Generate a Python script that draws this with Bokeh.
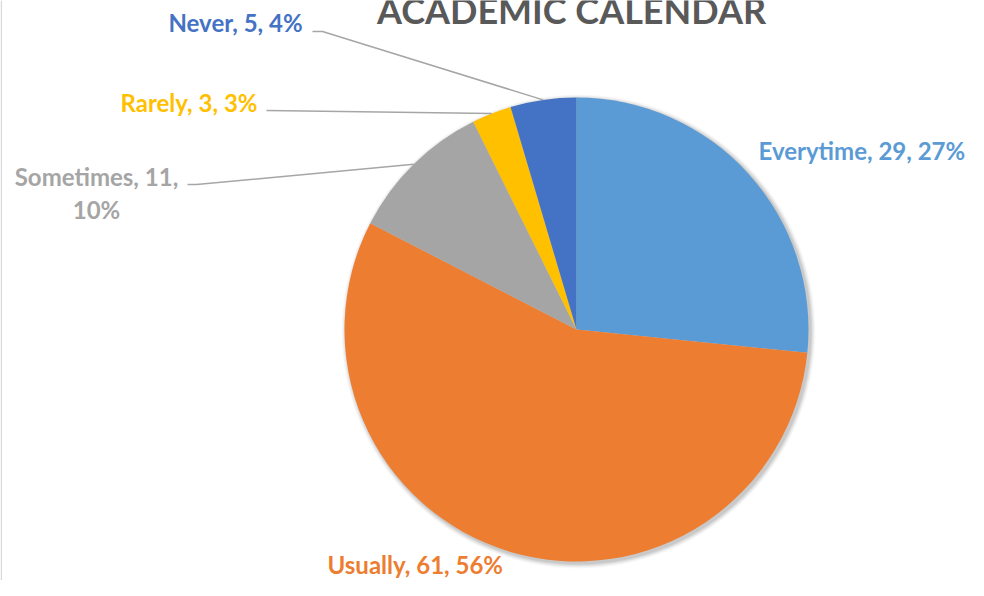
import math
from bokeh.plotting import figure
from bokeh.models import Range1d
from bokeh.core.properties import value
from bokeh.embed import file_html
from bokeh.resources import INLINE

# ---- data ----
title_text = "ACADEMIC CALENDAR"
categories = ["Everytime", "Usually", "Sometimes", "Rarely", "Never"]
counts = [29, 61, 11, 3, 5]
percents = [27, 56, 10, 3, 4]
colors = ["#5B9BD5", "#ED7D31", "#A5A5A5", "#FFC000", "#4472C4"]

# ---- layout (picture pixel coordinates) ----
W, H = 968, 580
PAGE_H = 596
FONT = "Lato"
TEXT_FIX = 8  # renderer draws alphabetic baseline a little low


def py(y):
    return PAGE_H - y


def ty(y):
    return PAGE_H - (y - TEXT_FIX)


cx, cy, R = 576, py(329), 232

p = figure(width=W, height=H, x_range=Range1d(0, W), y_range=Range1d(PAGE_H - H, PAGE_H),
           output_backend="svg", toolbar_location=None,
           x_axis_type=None, y_axis_type=None,
           min_border=0, min_border_left=0, min_border_right=0,
           min_border_top=0, min_border_bottom=0)
p.grid.visible = False
p.outline_line_color = None
p.background_fill_color = "white"
p.border_fill_color = "white"

# thin frame line at the left edge
p.line(x=[0.8, 0.8], y=[PAGE_H - H, PAGE_H], line_color="#D9D9D9", line_width=1.5)

# soft shadow
for k, a in [(5, 0.025), (4, 0.035), (3, 0.045), (2, 0.055), (1, 0.065)]:
    p.circle(x=[cx + 2], y=[cy - 2], radius=R + k, fill_color="black",
             fill_alpha=a, line_color=None)

total = sum(counts)
starts, ends, mids = [], [], []
cum = 0
for c in counts:
    a0 = math.pi / 2 - 2 * math.pi * cum / total
    cum += c
    a1 = math.pi / 2 - 2 * math.pi * cum / total
    starts.append(a0)
    ends.append(a1)
    mids.append((a0 + a1) / 2)

p.wedge(x=[cx] * len(counts), y=[cy] * len(counts), radius=R,
        start_angle=starts, end_angle=ends, direction="clock",
        fill_color=colors, line_color=None)

# label layout: x, baselines, alignment, leader start points
label_layout = {
    "Everytime": dict(x=758, ys=[158], align="left", leader=None),
    "Usually": dict(x=327, ys=[572], align="left", leader=None),
    "Sometimes": dict(x=96, ys=[184, 217], align="center", leader=[(187, 184), (196, 184)]),
    "Rarely": dict(x=120, ys=[110], align="left", leader=[(266, 110)]),
    "Never": dict(x=168, ys=[30], align="left", leader=[(312, 31), (322, 31)]),
}

for i, cat in enumerate(categories):
    lay = label_layout[cat]
    full = f"{cat}, {counts[i]}, {percents[i]}%"
    if len(lay["ys"]) == 2:
        lines = [f"{cat}, {counts[i]},", f"{percents[i]}%"]
    else:
        lines = [full]
    for txt, yy in zip(lines, lay["ys"]):
        p.text(x=[lay["x"]], y=[ty(yy)], text=[txt], text_color=colors[i],
               text_font=value(FONT), text_font_style="bold",
               text_font_size="24px", text_align=lay["align"],
               text_baseline="alphabetic")
    if lay["leader"]:
        ex = cx + R * math.cos(mids[i])
        ey = cy + R * math.sin(mids[i])
        xs = [pt[0] for pt in lay["leader"]] + [ex]
        ys = [py(pt[1]) for pt in lay["leader"]] + [ey]
        p.line(x=xs, y=ys, line_color="#A6A6A6", line_width=1.5)

p.text(x=[571], y=[ty(17)], text=[title_text], text_color="#595959",
       text_font=value(FONT), text_font_style="bold", text_font_size="36px",
       text_align="center", text_baseline="alphabetic")

open("out.html", "w").write(file_html(p, INLINE))
